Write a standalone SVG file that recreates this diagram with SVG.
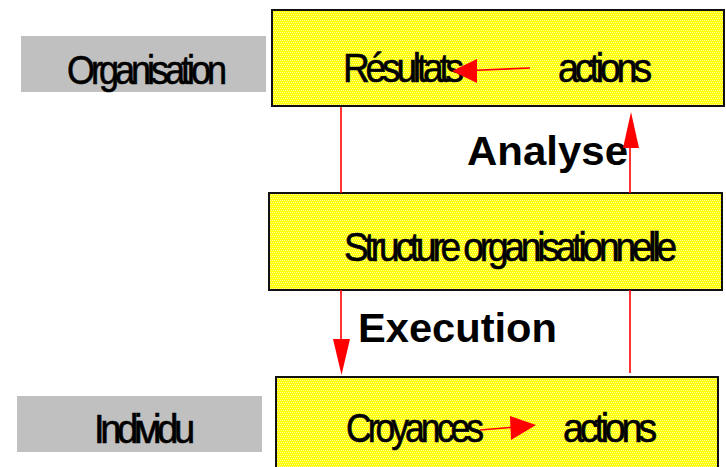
<svg xmlns="http://www.w3.org/2000/svg" width="726" height="467" viewBox="0 0 726 467">
  <style>
    .label { font-family: "Liberation Sans", Arial, sans-serif; font-size: 40px; fill: #000; stroke: #000; stroke-width: 0.6; letter-spacing: -4.5px; }
    .flow { font-family: "Liberation Sans", Arial, sans-serif; font-size: 41px; font-weight: bold; fill: #000; }
    .box { fill: url(#dither); stroke: #111; stroke-width: 2; }
    .side { fill: #c0c0c0; stroke: none; }
    .link { stroke: #ff0000; stroke-width: 1.6; fill: none; }
    .head { fill: #ff0000; stroke: none; }
  </style>
  <defs>
    <!-- fine yellow dither used as box fill -->
    <pattern id="dither" width="4" height="4" patternUnits="userSpaceOnUse">
      <rect width="4" height="4" fill="#ffff00"/>
      <rect x="0" y="0" width="1" height="1" fill="#ffffa0"/>
      <rect x="2" y="0" width="1" height="1" fill="#ffffa0"/>
      <rect x="1" y="2" width="1" height="1" fill="#ffffa0"/>
      <rect x="3" y="2" width="1" height="1" fill="#ffffa0"/>
    </pattern>
  </defs>

  <!-- level labels -->
  <g id="organisation">
    <rect class="side" x="21" y="36" width="245" height="56"/>
    <text class="label" x="67" y="84" textLength="156" lengthAdjust="spacingAndGlyphs">Organisation</text>
  </g>
  <g id="individu">
    <rect class="side" x="17" y="396" width="245" height="56"/>
    <text class="label" x="94" y="443" textLength="97" lengthAdjust="spacingAndGlyphs">Individu</text>
  </g>

  <!-- organisation box -->
  <g id="resultats-actions">
    <rect class="box" x="272" y="10" width="452" height="96"/>
    <text class="label" x="343" y="82" textLength="117" lengthAdjust="spacingAndGlyphs">Résultats</text>
    <text class="label" x="558" y="82" textLength="90" lengthAdjust="spacingAndGlyphs">actions</text>
  </g>

  <!-- structure box -->
  <g id="structure">
    <rect class="box" x="269" y="193" width="453" height="97"/>
    <text class="label" x="344" y="261" textLength="329" lengthAdjust="spacingAndGlyphs">Structure organisationnelle</text>
  </g>

  <!-- individual box -->
  <g id="croyances-actions">
    <rect class="box" x="276" y="377" width="442" height="100"/>
    <text class="label" x="346" y="442" textLength="134" lengthAdjust="spacingAndGlyphs">Croyances</text>
    <text class="label" x="563" y="442" textLength="90" lengthAdjust="spacingAndGlyphs">actions</text>
  </g>

  <!-- flow labels -->
  <g id="analyse">
    <text class="flow" x="467" y="165" textLength="161" lengthAdjust="spacingAndGlyphs">Analyse</text>
  </g>
  <g id="execution">
    <text class="flow" x="358" y="342" textLength="199" lengthAdjust="spacingAndGlyphs">Execution</text>
  </g>

  <!-- connectors -->
  <g id="connectors">
    <!-- actions to Résultats -->
    <line class="link" x1="530" y1="68" x2="470" y2="70.5"/>
    <polygon class="head" points="452,71 477,59 477,83"/>
    <!-- Croyances to actions -->
    <line class="link" x1="480" y1="430" x2="515" y2="427"/>
    <polygon class="head" points="536,425 510,416 511,440"/>
    <!-- execution path -->
    <line class="link" x1="341" y1="107" x2="341" y2="193"/>
    <line class="link" x1="341" y1="290" x2="341" y2="345"/>
    <polygon class="head" points="333,339 350,339 341.5,375"/>
    <!-- analysis path -->
    <line class="link" x1="630" y1="290" x2="630" y2="373"/>
    <line class="link" x1="630" y1="193" x2="630" y2="143"/>
    <polygon class="head" points="623,148 639,148 631,112"/>
  </g>
</svg>
